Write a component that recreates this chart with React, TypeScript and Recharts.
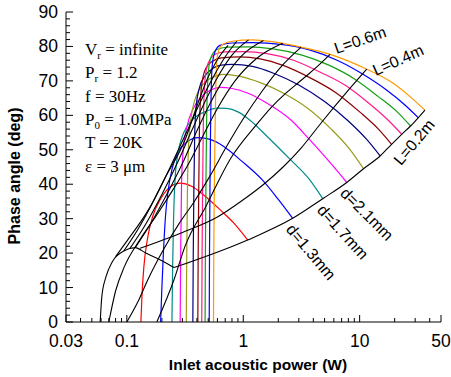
import { LineChart, Line, XAxis, YAxis } from 'recharts';

// constant-d curves (x = inlet acoustic power W, y = phase angle deg)
const dRed = [[0.132,0],[0.135,8],[0.14,16],[0.15,24],[0.168,31],[0.193,35.5],[0.22,38.3],[0.25,39.8],[0.287,40.3],[0.36,39.4],[0.46,36.8],[0.65,32.2],[0.82,28.9],[1.09,23.8]];
const dBlue = [[0.195,0],[0.2,10],[0.206,20],[0.214,30],[0.226,38],[0.245,44.5],[0.27,48.8],[0.33,52.3],[0.41,53.5],[0.52,53],[0.67,51.1],[0.97,46.7],[1.49,40.9],[2.0,35.6],[2.66,30.1]];
const dTeal = [[0.244,0],[0.247,15],[0.252,30],[0.26,42],[0.275,49],[0.3,54],[0.33,56.9],[0.4,59.8],[0.49,61.3],[0.6,62.1],[0.72,62],[0.9,61],[1.15,58.5],[1.59,54],[2.53,47.2],[3.7,41.4],[4.82,35.8]];
const dMagenta = [[0.287,0],[0.29,20],[0.295,40],[0.305,50],[0.33,57],[0.37,61.8],[0.43,65.2],[0.52,67.3],[0.633,68.1],[0.8,67.8],[1.1,66.4],[1.55,63.8],[2.6,58.5],[3.7,53],[5.9,45.3],[7.75,40.5]];
const dOlive = [[0.324,0],[0.327,20],[0.332,40],[0.34,52],[0.355,59],[0.38,64],[0.42,67.5],[0.5,70.3],[0.6,71.6],[0.675,71.9],[0.94,71.3],[1.4,69.5],[2.2,66.5],[3.6,62],[5.7,56],[8.3,50],[10.8,44.5]];
const dNavy = [[0.369,0],[0.372,20],[0.377,40],[0.383,55],[0.395,63],[0.42,68],[0.47,71.5],[0.55,73.7],[0.65,74.6],[0.8,74.8],[1.2,74.2],[1.8,72.3],[3,68.8],[5,64],[7.9,58.5],[11.5,53],[15,48.2]];
const dBrown = [[0.407,0],[0.41,20],[0.415,40],[0.42,55],[0.428,64],[0.445,70],[0.48,73.8],[0.55,75.8],[0.65,76.7],[0.94,77],[1.4,76.4],[2.2,74.5],[3.8,70.8],[6.3,66.5],[10,61],[14.5,56],[18.8,51.6]];
const dPink = [[0.44,0],[0.443,20],[0.448,40],[0.453,55],[0.46,65],[0.475,72],[0.51,75.8],[0.58,77.8],[0.7,78.4],[1.0,78.5],[1.6,77.9],[2.7,76],[4.6,72.5],[7.7,68.5],[12,63.5],[17.7,58.5],[23,54.5]];
const dGreen = [[0.47,0],[0.473,20],[0.478,40],[0.483,55],[0.49,66],[0.503,73],[0.53,77],[0.6,79.2],[0.75,79.8],[1.1,79.9],[1.8,79.3],[3.2,77.5],[5.5,74.5],[9.1,70.5],[14.4,65.5],[21,61],[27.4,56.9]];
const dBlue2 = [[0.51,0],[0.513,20],[0.518,40],[0.523,55],[0.53,67],[0.54,74],[0.565,78],[0.63,80.3],[0.8,81],[1.2,81.1],[2.1,80.6],[3.7,79],[6.4,76],[10.6,72],[16.8,67.5],[24.5,63],[31.9,59.3]];
const dOrange = [[0.555,0],[0.558,20],[0.565,40],[0.572,55],[0.58,67],[0.588,74],[0.605,78],[0.66,80.5],[0.8,81.5],[1.2,81.9],[1.49,81.7],[2.18,80.9],[3.14,79.8],[5.57,77.7],[11.5,73.4],[19,69.5],[28,65],[36.4,61.5]];

// black curves: smallest d and constant-L lines
const dMin = [[0.059,0],[0.061,7.5],[0.066,13],[0.075,17.5],[0.094,20.6],[0.118,21.6],[0.144,20.1],[0.2,17.8],[0.255,15.8]];
const L02 = [[0.255,15.8],[1.09,23.8],[2.66,30.1],[4.82,35.8],[7.75,40.5],[10.8,44.5],[15,48.2],[18.8,51.6],[23,54.5],[27.4,56.9],[31.9,59.3],[36.4,61.5]];
const L04 = [[0.13,21.4],[0.3,26],[0.6,30.5],[1.0,35.5],[1.5,40],[2.2,45],[3.14,50.5],[4.72,58],[8.0,67.3],[11.5,73.4]];
const L06 = [[0.181,0],[0.255,12.4],[0.317,22.1],[0.48,33.7],[0.77,47.2],[1.3,57.3],[1.75,62.4],[2.3,66.3],[2.95,69.4],[3.65,72],[4.5,74.7],[5.57,77.7]];
const L08 = [[0.1,0],[0.125,6],[0.15,12],[0.21,21.5],[0.28,28.5],[0.38,35],[0.52,42.5],[0.72,51],[1.0,59],[1.45,67],[2.1,74],[3.14,79.8]];
const L10 = [[0.07,0],[0.08,9],[0.095,16],[0.13,24],[0.18,31],[0.25,38.5],[0.34,46],[0.45,54],[0.6,62],[0.85,70],[1.3,76.5],[2.18,80.9]];
const L12 = [[0.118,21.6],[0.16,28.5],[0.22,37],[0.3,46],[0.4,55.5],[0.52,63.5],[0.68,70.5],[0.95,77],[1.49,81.7]];
const L14 = [[0.106,21.3],[0.14,27.5],[0.2,37],[0.27,46],[0.36,55.5],[0.47,64],[0.6,71],[0.8,77.5],[1.11,81.9]];
const L16 = [[0.094,20.6],[0.125,27],[0.175,36],[0.24,45.5],[0.33,55.5],[0.43,64],[0.55,71],[0.7,77],[0.88,81.5]];
const L18 = [[0.08,19],[0.1,23.5],[0.154,32.7],[0.213,41.9],[0.317,53],[0.4,62.7],[0.49,70.5],[0.59,75.8],[0.74,80.3]];

const xLabelTicks = [0.03, 0.1, 1, 10, 50];
const xMinorTicks = [0.04, 0.05, 0.06, 0.07, 0.08, 0.09, 0.2, 0.3, 0.4, 0.5, 0.6, 0.7, 0.8, 0.9, 2, 3, 4, 5, 6, 7, 8, 9, 20, 30, 40];
const yLabelTicks = [0, 10, 20, 30, 40, 50, 60, 70, 80, 90];
const yMinorTicks = [2, 4, 6, 8, 12, 14, 16, 18, 22, 24, 26, 28, 32, 34, 36, 38, 42, 44, 46, 48, 52, 54, 56, 58, 62, 64, 66, 68, 72, 74, 76, 78, 82, 84, 86, 88];

const infoLines = ['= infinite', '= 1.2', 'f = 30Hz', '= 1.0MPa', 'T = 20K', 'ε = 3 μm'];

const colored = [
  { data: dRed, color: '#ff0000' },
  { data: dBlue, color: '#0000ff' },
  { data: dTeal, color: '#008b8b' },
  { data: dMagenta, color: '#ff00ff' },
  { data: dOlive, color: '#9b9b1e' },
  { data: dNavy, color: '#000080' },
  { data: dBrown, color: '#8b0000' },
  { data: dPink, color: '#ff1a8c' },
  { data: dGreen, color: '#14a014' },
  { data: dBlue2, color: '#0000ff' },
  { data: dOrange, color: '#ff9900' },
];
const black = [dMin, L02, L04, L06, L08, L10, L12, L14, L16, L18];

const toPts = (arr: number[][]) => arr.map(([x, y]) => ({ x, y }));

const tickFont = { fontFamily: 'Liberation Sans, Arial, sans-serif', fontSize: 17.5, fill: '#000' };

const BottomTick = ({ x, y, payload }: any) => {
  const major = xLabelTicks.includes(payload.value);
  return (
    <g>
      <line x1={x} y1={y} x2={x} y2={y - (major ? 7 : 4)} stroke="#000" />
      {major && (
        <text x={x} y={y + 25} textAnchor="middle" {...tickFont}>
          {String(payload.value)}
        </text>
      )}
    </g>
  );
};
const TopTick = ({ x, y, payload }: any) => {
  const major = xLabelTicks.includes(payload.value);
  return <line x1={x} y1={y} x2={x} y2={y + (major ? 7 : 4)} stroke="#000" />;
};
const LeftTick = ({ x, y, payload }: any) => {
  const major = yLabelTicks.includes(payload.value);
  return (
    <g>
      <line x1={x} y1={y} x2={x + (major ? 7 : 4)} y2={y} stroke="#000" />
      {major && (
        <text x={x - 8} y={y + 6} textAnchor="end" {...tickFont}>
          {payload.value}
        </text>
      )}
    </g>
  );
};
const RightTick = ({ x, y, payload }: any) => {
  const major = yLabelTicks.includes(payload.value);
  return <line x1={x} y1={y} x2={x - (major ? 7 : 4)} y2={y} stroke="#000" />;
};

const serif = 'Liberation Serif, Times New Roman, serif';
const sans = 'Liberation Sans, Arial, sans-serif';

export default function App() {
  const xTicks = [...xLabelTicks, ...xMinorTicks].sort((a, b) => a - b);
  const yTicks = [...yLabelTicks, ...yMinorTicks].sort((a, b) => a - b);
  return (
    <div style={{ position: 'relative', width: 451, height: 377, background: '#fff' }}>
      <style>{'body{margin:0}'}</style>
      <LineChart width={451} height={377} margin={{ top: 12, right: 10, left: 0, bottom: 0 }}>
        <XAxis
          xAxisId={0}
          dataKey="x"
          type="number"
          scale="log"
          domain={[0.03, 50]}
          allowDataOverflow
          ticks={xTicks}
          interval={0}
          tickSize={0}
          tickMargin={0}
          tick={<BottomTick />}
          axisLine={{ stroke: '#000' }}
          height={55}
        />
        <XAxis
          xAxisId="top"
          orientation="top"
          dataKey="x"
          type="number"
          scale="log"
          domain={[0.03, 50]}
          allowDataOverflow
          ticks={xTicks}
          interval={0}
          tickSize={0}
          tickMargin={0}
          tick={<TopTick />}
          axisLine={{ stroke: '#000' }}
          height={0}
        />
        <YAxis
          yAxisId={0}
          type="number"
          domain={[0, 90]}
          allowDataOverflow
          ticks={yTicks}
          interval={0}
          tickSize={0}
          tickMargin={0}
          tick={<LeftTick />}
          axisLine={{ stroke: '#000' }}
          width={66}
        />
        <YAxis
          yAxisId="right"
          orientation="right"
          type="number"
          domain={[0, 90]}
          allowDataOverflow
          ticks={yTicks}
          interval={0}
          tickSize={0}
          tickMargin={0}
          tick={<RightTick />}
          axisLine={{ stroke: '#000' }}
          width={0}
        />
        {colored.map((c, i) => (
          <Line
            key={'c' + i}
            data={toPts(c.data)}
            dataKey="y"
            type="monotone"
            stroke={c.color}
            strokeWidth={1.2}
            dot={false}
            isAnimationActive={false}
          />
        ))}
        {black.map((b, i) => (
          <Line
            key={'b' + i}
            data={toPts(b)}
            dataKey="y"
            type="monotone"
            stroke="#000"
            strokeWidth={1.1}
            dot={false}
            isAnimationActive={false}
          />
        ))}
      </LineChart>
      <svg width={451} height={377} style={{ position: 'absolute', left: 0, top: 0, pointerEvents: 'none' }}>
        <g fontFamily={serif} fontSize={17} fill="#000">
          <text x={85} y={55}>V<tspan fontSize={11} dy={4}>r</tspan><tspan dy={-4}> {infoLines[0]}</tspan></text>
          <text x={85} y={78.3}>P<tspan fontSize={11} dy={4}>r</tspan><tspan dy={-4}> {infoLines[1]}</tspan></text>
          <text x={85} y={101.6}>{infoLines[2]}</text>
          <text x={85} y={124.9}>P<tspan fontSize={11} dy={4}>0</tspan><tspan dy={-4}> {infoLines[3]}</tspan></text>
          <text x={85} y={148.2}>{infoLines[4]}</text>
          <text x={85} y={171.5}>{infoLines[5]}</text>
        </g>
        <g fontFamily={sans} fontSize={16} fill="#000" textAnchor="middle">
          <text x={360} y={40} dy="0.35em" transform="rotate(-19 360 40)">L=0.6m</text>
          <text x={398} y={60} dy="0.35em" transform="rotate(-24 398 60)">L=0.4m</text>
          <text x={414} y={142} dy="0.35em" transform="rotate(-50 414 142)">L=0.2m</text>
          <text x={367} y={214} dy="0.35em" transform="rotate(45 367 214)">d=2.1mm</text>
          <text x={343} y={232} dy="0.35em" transform="rotate(48 343 232)">d=1.7mm</text>
          <text x={311} y={252} dy="0.35em" transform="rotate(50 311 252)">d=1.3mm</text>
        </g>
        <text x={258} y={365} dy="0.35em" textAnchor="middle" fontFamily={sans} fontWeight="bold" fontSize={15.5}>
          Inlet acoustic power (W)
        </text>
        <text x={14} y={176} dy="0.35em" textAnchor="middle" fontFamily={sans} fontWeight="bold" fontSize={16} transform="rotate(-90 14 176)">
          Phase angle (deg)
        </text>
      </svg>
    </div>
  );
}
